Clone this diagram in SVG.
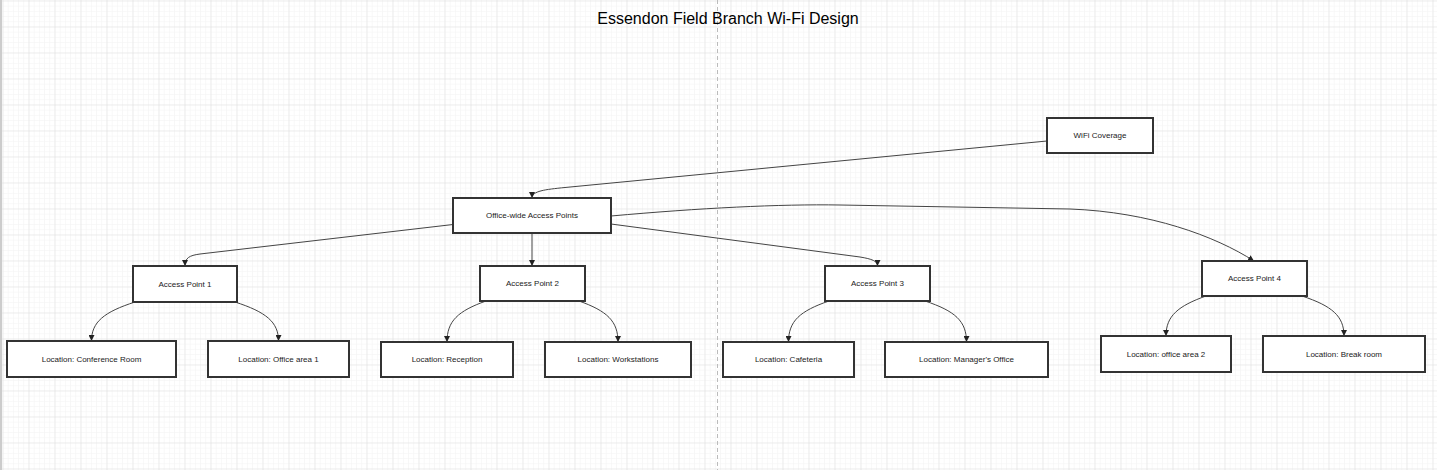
<svg xmlns="http://www.w3.org/2000/svg" width="1437" height="470" viewBox="0 0 1437 470">
<style>
.node rect{fill:#ffffff;stroke:#333333;stroke-width:2}
.node text{font-family:"Liberation Sans",Arial,sans-serif;font-size:8px;fill:#1a1a1a;text-anchor:middle}
.edge{fill:none;stroke:#444444;stroke-width:1;marker-end:url(#arr)}
.title{font-family:"Liberation Sans",Arial,sans-serif;font-size:16px;fill:#000000;text-anchor:middle}
</style>
<defs>
<pattern id="minor" x="2.5" y="0.5" width="5.2" height="5.2" patternUnits="userSpaceOnUse">
<path d="M0,0 H5.2 M0,0 V5.2" fill="none" stroke="#f2f2f2" stroke-width="1"/>
</pattern>
<pattern id="major" x="2.5" y="0.5" width="26" height="26" patternUnits="userSpaceOnUse">
<path d="M0,0 H26 M0,0 V26" fill="none" stroke="#e0e0e0" stroke-width="1"/>
</pattern>
<marker id="arr" viewBox="0 0 6 6" refX="6" refY="3" markerWidth="6" markerHeight="6" markerUnits="userSpaceOnUse" orient="auto">
<path d="M0,0 L6,3 L0,6 z" fill="#222222"/>
</marker>
</defs>
<rect x="0" y="0" width="1437" height="470" fill="#ffffff"/>
<rect x="0" y="0" width="1437" height="470" fill="url(#minor)"/>
<rect x="0" y="0" width="1437" height="470" fill="url(#major)"/>
<line x1="1" y1="0" x2="1" y2="470" stroke="#cccccc" stroke-width="2"/>
<line x1="717.5" y1="0" x2="717.5" y2="470" stroke="#bbbbbb" stroke-width="1" stroke-dasharray="4 3"/>
<text class="title" x="728" y="23.5">Essendon Field Branch Wi-Fi Design</text>
<g id="connectors">
<path class="edge" d="M1047,141 L565,187.5 C545,189.5 532,191 532,198"/>
<path class="edge" d="M453,224.5 L200,254 C189,255.5 185,258 185,266"/>
<path class="edge" d="M532,233 L532,266"/>
<path class="edge" d="M611,224 L860,257 C872,259 877.5,261 877.5,266"/>
<path class="edge" d="M611,216 C700,208 780,204 840,205 L1070,209 C1150,212 1215,236 1254,261"/>
<path class="edge" d="M135,302 C104,312 91.5,322 91.5,341"/>
<path class="edge" d="M235,302 C266,312 278.5,322 278.5,341"/>
<path class="edge" d="M486,301 C458,311 447,321 447,342"/>
<path class="edge" d="M579,301 C607,311 618,321 618,342"/>
<path class="edge" d="M829,301 C800,311 788.5,321 788.5,342"/>
<path class="edge" d="M925,301 C955,311 966.5,321 966.5,342"/>
<path class="edge" d="M1206,296 C1178,306 1166,316 1166,336"/>
<path class="edge" d="M1302,296 C1332,306 1344,316 1344,336"/>
</g>
<g id="wifi-coverage" class="node"><rect x="1047" y="118" width="106" height="35"/><text x="1100" y="138.3">WiFi Coverage</text></g>
<g id="office-wide" class="node"><rect x="453" y="198" width="158" height="35"/><text x="532" y="218.3">Office-wide Access Points</text></g>
<g id="ap1" class="node"><rect x="133" y="266" width="104" height="36"/><text x="185" y="286.8">Access Point 1</text></g>
<g id="ap2" class="node"><rect x="480" y="266" width="105" height="35"/><text x="532.5" y="286.3">Access Point 2</text></g>
<g id="ap3" class="node"><rect x="825" y="266" width="105" height="35"/><text x="877.5" y="286.3">Access Point 3</text></g>
<g id="ap4" class="node"><rect x="1202" y="261" width="105" height="35"/><text x="1254.5" y="281.3">Access Point 4</text></g>
<g id="loc-conference" class="node"><rect x="7" y="341" width="169" height="36"/><text x="91.5" y="361.8">Location: Conference Room</text></g>
<g id="loc-office1" class="node"><rect x="208" y="341" width="141" height="36"/><text x="278.5" y="361.8">Location: Office area 1</text></g>
<g id="loc-reception" class="node"><rect x="381" y="342" width="132" height="35"/><text x="447" y="362.3">Location: Reception</text></g>
<g id="loc-workstations" class="node"><rect x="545" y="342" width="146" height="35"/><text x="618" y="362.3">Location: Workstations</text></g>
<g id="loc-cafeteria" class="node"><rect x="723" y="342" width="131" height="35"/><text x="788.5" y="362.3">Location: Cafeteria</text></g>
<g id="loc-manager" class="node"><rect x="885" y="342" width="163" height="35"/><text x="966.5" y="362.3">Location: Manager's Office</text></g>
<g id="loc-office2" class="node"><rect x="1101" y="336" width="130" height="36"/><text x="1166" y="356.8">Location: office area 2</text></g>
<g id="loc-breakroom" class="node"><rect x="1263" y="336" width="162" height="36"/><text x="1344" y="356.8">Location: Break room</text></g>
</svg>
